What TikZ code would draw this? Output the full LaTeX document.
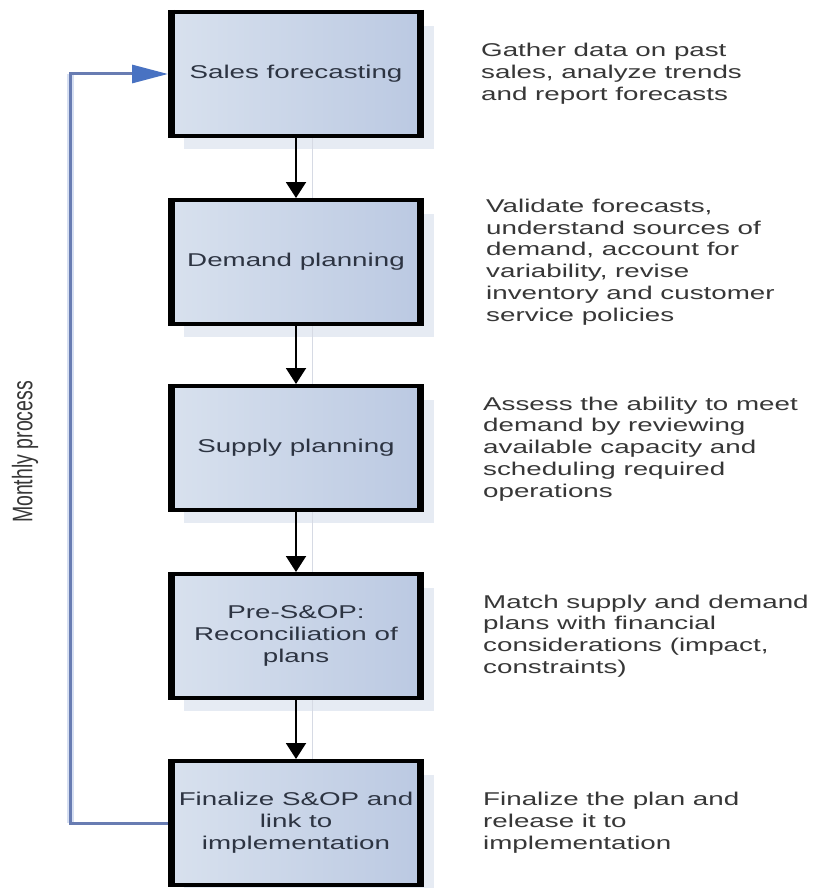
\documentclass[tikz,border=0pt]{standalone}
\usepackage{fontspec}
\setmainfont{Liberation Sans}[FakeStretch=1.5]
\newfontfamily\labelfont{Liberation Sans}
\usetikzlibrary{arrows.meta}
\definecolor{boxL}{RGB}{216,225,238}
\definecolor{boxR}{RGB}{187,201,226}
\definecolor{shadowc}{RGB}{230,235,243}
\definecolor{boxtext}{RGB}{45,52,66}
\definecolor{sidetext}{RGB}{55,55,55}
\definecolor{fbline}{RGB}{104,124,178}
\definecolor{fbhalo}{RGB}{214,223,242}
\definecolor{fbhead}{RGB}{72,114,194}
\definecolor{cshadow}{RGB}{214,218,228}
\begin{document}
\begin{tikzpicture}[x=1pt,y=-1pt,
  box/.style={draw=black, line width=4pt, left color=boxL, right color=boxR,
    minimum width=252pt, minimum height=124pt, inner sep=0pt, align=center,
    text=boxtext, font=\fontsize{18.5}{21.8}\selectfont},
  side/.style={anchor=west, align=left, inner sep=0pt, text=sidetext,
    font=\fontsize{18.5}{21.8}\selectfont},
  conn/.style={line width=2pt, -{Triangle[width=20pt,length=16pt]}},
  connshadow/.style={draw=cshadow, line width=1pt},
  fbl/.style={draw=fbline, line width=3pt, -{Triangle[length=36pt,width=18pt,color=fbhead]}},
  fbhalo/.style={draw=fbhalo, line width=7pt}
]
\fill[white] (0,0) rectangle (815,888);
\useasboundingbox (0,0) rectangle (815,888);

% box shadows
\foreach \c in {74,262,448,636,823}{
  \fill[shadowc] (184,\c-48) rectangle (434,\c+75);
}

% boxes
\node[box] (b1) at (296,74) {Sales forecasting};
\node[box] (b2) at (296,262) {Demand planning};
\node[box] (b3) at (296,448) {Supply planning};
\node[box] (b4) at (296,636) {Pre-S\&OP:\\Reconciliation of\\plans};
\node[box] (b5) at (296,823) {Finalize S\&OP and\\link to\\implementation};

% thicker vertical sides
\foreach \b in {b1,b2,b3,b4,b5}{
  \draw[line width=7pt] ([xshift=3.5pt]\b.north west) -- ([xshift=3.5pt]\b.south west);
  \draw[line width=7pt] ([xshift=-3.5pt]\b.north east) -- ([xshift=-3.5pt]\b.south east);
}

% connector shadows
\draw[connshadow] ([xshift=16pt]b1.south) -- ([xshift=16pt]b2.north);
\draw[connshadow] ([xshift=16pt]b2.south) -- ([xshift=16pt]b3.north);
\draw[connshadow] ([xshift=16pt]b3.south) -- ([xshift=16pt]b4.north);
\draw[connshadow] ([xshift=16pt]b4.south) -- ([xshift=16pt]b5.north);

% connectors
\draw[conn] (b1) -- (b2);
\draw[conn] (b2) -- (b3);
\draw[conn] (b3) -- (b4);
\draw[conn] (b4) -- (b5);

% feedback loop
\coordinate (fb) at (70,74);
\draw[fbhalo] (b5.west -| fb) -- (b1.west -| fb);
\draw[fbl] (b5.west) -- (b5.west -| fb) -- (b1.west -| fb) -- (b1.west);

% side texts
\node[side] (t1) at (481,74) {Gather data on past\\sales, analyze trends\\and report forecasts};
\node[side] (t2) at (486,262) {Validate forecasts,\\understand sources of\\demand, account for\\variability, revise\\inventory and customer\\service policies};
\node[side] (t3) at (483,449) {Assess the ability to meet\\demand by reviewing\\available capacity and\\scheduling required\\operations};
\node[side] (t4) at (483,636) {Match supply and demand\\plans with financial\\considerations (impact,\\constraints)};
\node[side] (t5) at (483,823) {Finalize the plan and\\release it to\\implementation};

% loop label
\node[rotate=90, inner sep=0pt, text=sidetext, font=\labelfont\fontsize{19.5}{22}\selectfont] (lab) at (25,452) {\scalebox{1}[1.45]{Monthly process}};
\end{tikzpicture}
\end{document}
